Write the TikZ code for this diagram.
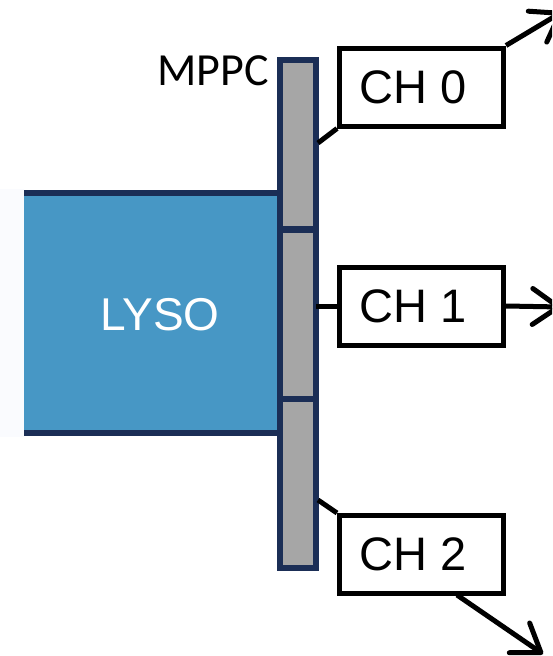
\documentclass[tikz,border=0pt]{standalone}
\usepackage{fontspec}
\setmainfont{Liberation Sans}
\newfontfamily\califont{Carlito}
\usetikzlibrary{arrows.meta,calc}
\definecolor{navy}{RGB}{27,46,86}
\definecolor{lyso}{RGB}{71,151,197}
\definecolor{mgray}{RGB}{166,166,166}
\definecolor{pale}{RGB}{250,251,254}
\tikzset{
  cell/.style={draw=navy, line width=6pt, fill=mgray, minimum width=36pt, minimum height=169pt, inner sep=0pt, outer sep=0pt},
  chbox/.style={draw=black, line width=5pt, fill=white, minimum width=164pt, minimum height=78pt, inner sep=0pt, font=\fontsize{47}{50}\selectfont},
  wire/.style={draw=black, line width=5pt},
  outarrow/.style={wire, -{Straight Barb[length=26pt,width=36pt,line width=5pt,round]}},
}
\begin{document}
\begin{tikzpicture}[x=1pt,y=-1pt]
\useasboundingbox (0,0) rectangle (552,656);
\clip (0,0) rectangle (552,656);
% pale strip left of crystal
\fill[pale] (0,189) rectangle (24,437);
% LYSO crystal
\fill[lyso] (24,192.5) rectangle (280,433);
\draw[navy, line width=6pt] (24,192.5) -- (280,192.5);
\draw[navy, line width=6pt] (24,433) -- (280,433);
\node[text=white, font=\fontsize{46}{50}\selectfont] (lysolabel) at (160,315) {LYSO};
% MPPC cells
\node[cell] (m0) at (298,144.5) {};
\node[cell] (m1) at (298,314) {};
\node[cell] (m2) at (298,483.5) {};
\node[font=\califont\fontsize{46}{48}\selectfont, anchor=base east, inner sep=0pt] (mppc) at (269,85) {MPPC};
% channel boxes
\node[chbox] (ch0) at (421.5,87) {CH 0\hspace*{17pt}};
\node[chbox] (ch1) at (421.5,306) {CH 1\hspace*{17pt}};
\node[chbox] (ch2) at (421.5,554.5) {CH 2\hspace*{17pt}};
% connector anchors
\coordinate (s0) at (318,143);
\coordinate (s2) at (318,500);
\coordinate (o2) at (457,595);
\coordinate (e0) at (562,12);
\coordinate (e1) at (561,307);
\coordinate (e2) at (543,654);
% connectors
\draw[wire] (s0) -- (ch0.south west);
\draw[wire] (ch1.west -| m1.east) -- (ch1.west);
\draw[wire] (s2) -- (ch2.north west);
\draw[outarrow] (ch0.north east) -- (e0);
\draw[outarrow] (ch1.east) -- (e1);
\draw[outarrow] (o2) -- (e2);
\end{tikzpicture}
\end{document}
